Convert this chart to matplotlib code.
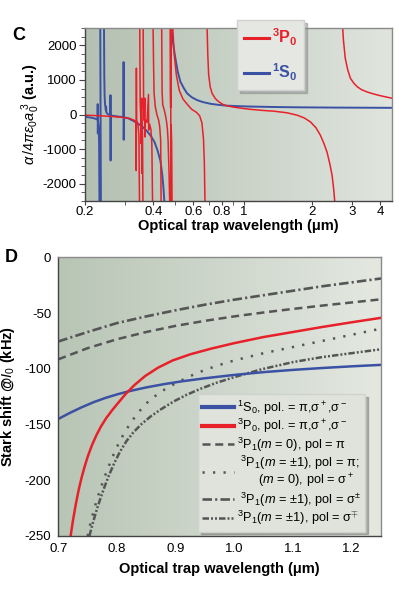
import numpy as np
import matplotlib
matplotlib.use("Agg")
import matplotlib.pyplot as plt
from matplotlib.colors import LinearSegmentedColormap
from matplotlib.ticker import FixedLocator, NullFormatter, FixedFormatter
from matplotlib.lines import Line2D

nan = np.nan

# ---- panel C: polarizability (a.u.) vs wavelength (um), (nan, nan) splits branches
c_s0 = [
    (0.200, -70), (0.210, -85), (0.218, -105), (0.224, -130), (0.2272, -150),
    (0.2275, 300), (0.2278, -550), (0.2282, -200), (0.2300, -400), (0.2308, -900),
    (0.2315, -2500), (nan, nan),
    (0.2335, 2500), (0.2342, 0), (0.2350, -2500), (nan, nan),
    (0.2425, 2500), (0.2432, 1100), (0.2440, 550), (0.2450, 300), (0.2462, 200),
    (0.2470, 120), (0.2478, 230), (0.2485, 60), (0.252, 10), (0.2588, -20),
    (0.2590, 560), (0.2593, -1330), (0.2596, -30), (0.270, -45), (0.285, -65),
    (0.2955, -75), (0.2958, 1515), (0.2962, -730), (0.2966, -80), (0.310, -110),
    (0.330, -200), (0.355, -330), (0.375, -480), (0.390, -620), (0.405, -800),
    (0.418, -1050), (0.430, -1350), (0.438, -1750), (0.443, -2100), (0.447, -2500),
    (nan, nan),
    (0.480, 2500), (0.490, 2000), (0.500, 1630), (0.512, 1250), (0.526, 950),
    (0.545, 760), (0.563, 612), (0.590, 500), (0.623, 417), (0.660, 360),
    (0.713, 310), (0.770, 280), (0.845, 255), (0.950, 240), (1.07, 230),
    (1.40, 215), (1.78, 207), (2.50, 200), (3.50, 196), (4.50, 193),
]
c_p0 = [
    (0.200, -20), (0.230, -35), (0.260, -55), (0.290, -80), (0.315, -115),
    (0.330, -170), (0.3355, -250), (0.3362, -1620), (0.3368, 1340), (0.3375, -180),
    (0.3420, -260), (0.3455, -600), (0.3475, -2500), (nan, nan),
    (0.3485, 2500), (0.3500, 350), (0.3520, -80), (0.3528, -840), (0.3534, 250),
    (0.3545, -450), (0.3553, 470), (0.3562, -1700), (0.3570, -250), (0.3585, -700),
    (0.3598, -2500), (nan, nan),
    (0.3608, 2500), (0.3625, 150), (0.3650, -180), (0.3668, 470), (0.3674, -650),
    (0.3690, -150), (0.3750, -230), (0.3808, 580), (0.3815, -450), (0.3850, -280),
    (0.3900, -420), (0.3940, -850), (0.3967, -2500), (nan, nan),
    (0.3990, 2500), (0.4010, 1390), (0.4030, 612), (0.4080, 222), (0.4153, -20),
    (0.4222, -166), (0.4266, -350), (0.4309, -750), (0.4327, -2500), (nan, nan),
    (0.4353, 2500), (0.4371, 650), (0.4400, 280), (0.4470, 125), (0.4525, -30),
    (0.4565, -170), (0.4610, -400), (0.4645, -750), (0.4692, -1720), (0.4720, -2500),
    (nan, nan),
    (0.4745, 2500), (0.4755, 700), (0.4768, 200), (0.4772, 2500), (0.4776, -2500),
    (0.4790, -300), (0.4815, -800), (0.4835, -2500), (nan, nan),
    (0.487, 2500), (0.495, 1700), (0.505, 1150), (0.520, 700), (0.540, 450),
    (0.560, 320), (0.590, 150), (0.620, 60), (0.640, -40), (0.655, -250),
    (0.665, -700), (0.671, -1400), (0.675, -2500), (nan, nan),
    (0.690, 2500), (0.695, 1700), (0.701, 1150), (0.712, 800), (0.726, 610),
    (0.750, 460), (0.776, 370), (0.813, 285), (0.845, 250), (0.900, 215),
    (0.967, 185), (1.07, 150), (1.20, 120), (1.356, 96), (1.55, 50),
    (1.719, -20), (1.85, -100), (1.968, -215), (2.08, -380), (2.177, -600),
    (2.26, -850), (2.329, -1090), (2.40, -1450), (2.452, -1770), (2.49, -2150),
    (2.517, -2500), (nan, nan),
    (2.73, 2500), (2.75, 2150), (2.80, 1630), (2.87, 1300), (2.95, 1050),
    (3.05, 910), (3.16, 805), (3.30, 720), (3.50, 650), (3.75, 590),
    (3.99, 545), (4.25, 505), (4.50, 470),
]
c_xticks = [0.2, 0.4, 0.6, 0.8, 1, 2, 3, 4]
c_xtick_labels = ["0.2", "0.4", "0.6", "0.8", "1", "2", "3", "4"]
c_xminor = [0.3, 0.5, 0.7, 0.9]

# ---- panel D: Stark shift (kHz) vs wavelength (um)
d_s0_wl = [0.70, 0.72, 0.74, 0.76, 0.78, 0.80, 0.82, 0.85, 0.88, 0.91, 0.95, 1.00,
           1.05, 1.10, 1.15, 1.20, 1.25]
d_s0 = [-145, -139.5, -134.5, -130, -126.2, -123, -120.2, -116.7, -113.8, -111.3,
        -108.5, -105.5, -103, -101, -99.3, -97.8, -96.5]
d_p0_wl = [0.721, 0.725, 0.730, 0.735, 0.740, 0.745, 0.750, 0.757, 0.765, 0.773, 0.782,
           0.792, 0.803, 0.815, 0.830, 0.848, 0.870, 0.895, 0.925, 0.960, 1.00, 1.05,
           1.10, 1.15, 1.20, 1.25]
d_p0 = [-250, -236, -221, -208, -197, -187.5, -179, -169, -159.5, -151.5, -144,
        -137, -130, -122.5, -114.5, -106.5, -99, -92.5, -87, -82, -77, -71.5,
        -67, -62.5, -58.3, -54.3]
d_m0pi_wl = [0.70, 0.75, 0.80, 0.85, 0.90, 0.95, 1.00, 1.05, 1.10, 1.15, 1.20, 1.25]
d_m0pi = [-91.5, -81.5, -73.5, -67, -61.5, -57, -53, -49.5, -46.3, -43.3, -40.5, -37.7]
d_m1pi_wl = [0.750, 0.755, 0.760, 0.766, 0.773, 0.780, 0.790, 0.800, 0.811, 0.822,
             0.835, 0.850, 0.865, 0.880, 0.900, 0.925, 0.950, 0.975, 1.00, 1.05,
             1.10, 1.15, 1.20, 1.25]
d_m1pi = [-250, -238, -228, -217, -206, -195.5, -182, -170, -159, -149.5,
          -140, -131, -124.5, -119, -113, -106.5, -101, -96.5, -92.5, -86,
          -80.5, -75, -69.5, -64]
d_m1sp_wl = [0.70, 0.75, 0.80, 0.85, 0.90, 0.95, 1.00, 1.05, 1.10, 1.15, 1.20, 1.25]
d_m1sp = [-75.5, -67, -59, -53, -47.5, -42.5, -38, -34, -30, -26, -22.5, -19]
d_m1sm_wl = [0.753, 0.758, 0.764, 0.771, 0.778, 0.786, 0.795, 0.805, 0.816, 0.828,
             0.842, 0.858, 0.876, 0.896, 0.918, 0.942, 0.970, 1.00, 1.046, 1.10,
             1.15, 1.20, 1.25]
d_m1sm = [-250, -240, -229, -217.5, -207, -196, -185, -174.5, -165, -157,
          -149.5, -142.5, -136, -129.5, -123.5, -118, -112.5, -107.5, -100.5, -94,
          -89.5, -86, -82.5]
d_labels = [
    r"$^1$S$_0$, pol. = π,σ$^+$,σ$^-$",
    r"$^3$P$_0$, pol. = π,σ$^+$,σ$^-$",
    r"$^3$P$_1$($m$ = 0), pol = π",
    " $^3$P$_1$($m$ = ±1), pol = π;\n      ($m$ = 0), pol = σ$^+$",
    r" $^3$P$_1$($m$ = ±1), pol = σ$^{\pm}$",
    r"$^3$P$_1$($m$ = ±1), pol = σ$^{\mp}$",
]

RED = "#e8202a"
BLUE = "#3b51a3"
GRAY = "#555555"

plt.rcParams["font.family"] = ["Liberation Sans", "DejaVu Sans"]
plt.rcParams["mathtext.fontset"] = "custom"
plt.rcParams["mathtext.rm"] = "Liberation Sans"
plt.rcParams["mathtext.it"] = "Liberation Sans:italic"
plt.rcParams["mathtext.bf"] = "Liberation Sans:bold"
plt.rcParams["axes.unicode_minus"] = False


def gradient(ax, c0, c1):
    cmap = LinearSegmentedColormap.from_list("bg", [c0, c1])
    g = np.linspace(0, 1, 256).reshape(1, -1)
    ax.imshow(g, extent=[0, 1, 0, 1], transform=ax.transAxes, aspect="auto",
              cmap=cmap, zorder=0, interpolation="bicubic")


def frame(ax):
    for s in ["left", "bottom"]:
        ax.spines[s].set_color("#444444")
    for s in ["top", "right"]:
        ax.spines[s].set_color("#8a8a8a")
    for s in ax.spines.values():
        s.set_linewidth(1.0)
        s.set_zorder(5)


fig = plt.figure(figsize=(3.99, 5.94), dpi=100)

# ---------------- panel C
axc = fig.add_axes([85 / 399, 393 / 594, 307 / 399, 173 / 594])
gradient(axc, "#b4c0b1", "#e0e5de")
frame(axc)
cs = np.array(c_s0).T
cp = np.array(c_p0).T
axc.plot(cp[0], cp[1], color=RED, lw=1.1, zorder=3)
axc.plot(cs[0], cs[1], color=BLUE, lw=1.4, zorder=2)
axc.set_xscale("log")
axc.set_xlim(0.2, 4.5)
axc.set_ylim(-2500, 2500)
axc.xaxis.set_major_locator(FixedLocator(c_xticks))
axc.xaxis.set_major_formatter(FixedFormatter(c_xtick_labels))
axc.xaxis.set_minor_locator(FixedLocator(c_xminor))
axc.xaxis.set_minor_formatter(NullFormatter())
axc.yaxis.set_major_locator(FixedLocator([-2000, -1000, 0, 1000, 2000]))
axc.yaxis.set_minor_locator(FixedLocator(np.arange(-2500, 2501, 250)))
axc.tick_params(which="both", direction="out", labelsize=9.5, color="#444444", pad=2)
axc.tick_params(which="major", length=4)
axc.tick_params(which="minor", length=3)
axc.tick_params(axis="x", which="both", length=3, pad=0.5)
axc.set_xlabel("Optical trap wavelength (μm)", fontsize=10.5, fontweight="bold")
axc.xaxis.set_label_coords(0.5, -0.105)
axc.set_ylabel(r"$\alpha\,/4\pi\epsilon_0a_0^{\,3}$ (a.u.)", fontsize=10.5,
               fontweight="bold")
axc.yaxis.set_label_coords(-0.14, 0.5)

hc = [Line2D([], [], color=RED, lw=2.2), Line2D([], [], color=BLUE, lw=2.2)]
legc = axc.legend(hc, [r"$^\mathbf{3}$P$_\mathbf{0}$", r"$^\mathbf{1}$S$_\mathbf{0}$"],
                  loc="upper left", bbox_to_anchor=(237 / 399, 1 - 20 / 594),
                  bbox_transform=fig.transFigure, borderaxespad=0,
                  prop={"size": 11.5, "weight": "bold"}, labelcolor=[RED, BLUE],
                  handlelength=1.6, handletextpad=0.15, borderpad=0.42, labelspacing=0.85,
                  fancybox=False, shadow={"color": "#888888", "alpha": 0.5},
                  facecolor="#e4e7e2", edgecolor="#d0d0d0", framealpha=1)
legc.set_zorder(10)

fig.text(12 / 399, 1 - 40 / 594, "C", fontsize=13, fontweight="bold")

# ---------------- panel D
axd = fig.add_axes([58.3 / 399, 58 / 594, 322.7 / 399, 278.7 / 594])
gradient(axd, "#b8c5b5", "#e4e8e1")
frame(axd)
axd.plot(d_s0_wl, d_s0, color=BLUE, lw=1.8, zorder=3, label=d_labels[0])
axd.plot(d_p0_wl, d_p0, color=RED, lw=1.8, zorder=3, label=d_labels[1])
axd.plot(d_m0pi_wl, d_m0pi, color=GRAY, lw=1.8, ls=(0, (3.2, 1.9)), zorder=2,
         label=d_labels[2])
axd.plot(d_m1pi_wl, d_m1pi, color=GRAY, lw=1.8, ls=(0, (0.9, 3.3)), zorder=2,
         label=d_labels[3])
axd.plot(d_m1sp_wl, d_m1sp, color=GRAY, lw=1.9, ls=(0, (3.6, 1.2, 0.8, 1.2)), zorder=2,
         label=d_labels[4])
axd.plot(d_m1sm_wl, d_m1sm, color=GRAY, lw=1.8, ls=(0, (2.6, 0.8, 0.8, 0.8, 0.8, 0.8)),
         zorder=2, label=d_labels[5])
axd.set_xlim(0.7, 1.25)
axd.set_ylim(-250, 0)
axd.set_xticks([0.7, 0.8, 0.9, 1.0, 1.1, 1.2])
axd.set_xticklabels(["0.7", "0.8", "0.9", "1.0", "1.1", "1.2"])
axd.set_yticks([0, -50, -100, -150, -200, -250])
axd.tick_params(length=0, labelsize=9.5, pad=5)
axd.set_xlabel("Optical trap wavelength (μm)", fontsize=10.5, fontweight="bold")
axd.xaxis.set_label_coords(0.5, -0.092)
axd.set_ylabel(r"Stark shift @$I_0$ (kHz)", fontsize=10.5, fontweight="bold")
axd.yaxis.set_label_coords(-0.128, 0.5)

legd = axd.legend(loc="upper left", bbox_to_anchor=(198 / 399, 1 - 394 / 594),
                  bbox_transform=fig.transFigure, borderaxespad=0, fontsize=9.2,
                  handlelength=2.5, handletextpad=0.2, borderpad=0.35, labelspacing=0.02,
                  fancybox=False, shadow={"color": "#777777", "alpha": 0.5},
                  facecolor="#dfe3dc", edgecolor="#cfd3cc", framealpha=1)
for t in legd.get_texts():
    t.set_linespacing(1.0)
for h in legd.legend_handles[:2]:
    h.set_linewidth(3)
legd.set_zorder(10)

fig.text(5 / 399, 1 - 262 / 594, "D", fontsize=13, fontweight="bold")

fig.savefig("out.png", dpi=100)
